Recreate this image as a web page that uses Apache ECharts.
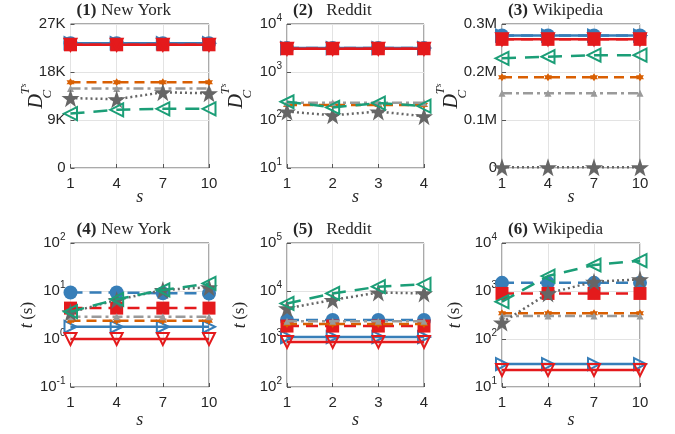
<!DOCTYPE html>
<html><head><meta charset="utf-8">
<script src="https://cdn.jsdelivr.net/npm/echarts@6/dist/echarts.min.js"></script>
<style>html,body{margin:0;padding:0;background:#fff}#c{width:675px;height:434px}</style>
</head><body><div id="c"></div>
<script>
// ---- data ----
const sNY = ['1','4','7','10'];
const sRD = ['1','2','3','4'];
const sWK = ['1','4','7','10'];
const titles = ['(1)|New York','(2)|  Reddit','(3)|Wikipedia','(4)|New York','(5)|  Reddit','(6)|Wikipedia'];
// series order: A blue solid ▷, B red solid ▽, C blue dashed ●, D red dashed ■,
// E orange dashed hexagram, F gray dash-dot ▲, G green dashed ◁, H dark gray dotted ★
const dcNY = {
  A:[23400,23400,23400,23400], B:[23100,23100,23100,23100],
  C:[23400,23400,23400,23400], D:[23100,23100,23100,23100],
  E:[16100,16100,16100,16100], F:[14900,14900,14900,14900],
  G:[10200,10900,11100,11100], H:[13100,12900,14200,14000]
};
const dcRD = {
  A:[3150,3150,3150,3150], B:[3050,3050,3050,3050],
  C:[3150,3150,3150,3150], D:[3050,3050,3050,3050],
  E:[206,206,206,206], F:[230,230,230,230],
  G:[240,183,225,195], H:[150,125,150,120]
};
const dcWK = {
  A:[276000,276000,276000,276000], B:[268000,268000,268000,268000],
  C:[276000,276000,276000,276000], D:[268000,268000,268000,268000],
  E:[189000,189000,189000,189000], F:[155500,155500,155500,155500],
  G:[228500,232000,235000,235000], H:[1500,1500,1500,1500]
};
const tNY = {
  A:[1.8,1.8,1.8,1.8], B:[1.0,1.0,1.0,1.0],
  C:[9.3,9.3,9.0,8.9], D:[4.4,4.4,4.4,4.4],
  E:[2.4,2.4,2.4,2.4], F:[2.9,2.9,2.9,2.9],
  G:[3.7,6.7,10.5,14.4], H:[3.6,6.5,10.5,12]
};
const tRD = {
  A:[1100,1100,1100,1100], B:[870,870,870,870],
  C:[2500,2500,2500,2500], D:[1860,1860,1860,1860],
  E:[2050,2050,2050,2050], F:[2350,2350,2350,2350],
  G:[5500,8900,12300,13800], H:[4350,6500,9300,8900]
};
const tWK = {
  A:[30,30,30,30], B:[22.6,22.6,22.6,22.6],
  C:[1480,1480,1480,1480], D:[890,890,890,890],
  E:[343,343,343,343], F:[302,302,302,302],
  G:[600,2050,3480,4290], H:[220,890,1560,1750]
};
const panelData = [dcNY, dcRD, dcWK, tNY, tRD, tWK];
const panelX = [sNY, sRD, sWK, sNY, sRD, sWK];

// ---- styles ----
const STAR = 'path://M50,0 L61.8,35.1 L98.1,35.1 L68.8,56.8 L79.4,91 L50,70 L20.6,91 L31.2,56.8 L1.9,35.1 L38.2,35.1 Z';
const HEX = 'path://M50,0 L64.4,25 L93.3,25 L78.9,50 L93.3,75 L64.4,75 L50,100 L35.6,75 L6.7,75 L21.1,50 L6.7,25 L35.6,25 Z';
const BLUE='#377eb8', RED='#e41a1c', ORANGE='#d95f02', GREEN='#1b9e77', LGRAY='#9a9a9a', DGRAY='#666666';
const styles = {
  C:{c:BLUE, dash:[12,7], sym:'circle', size:14, rot:0, open:false, w:2.5},
  A:{c:BLUE, dash:'solid', sym:'triangle', size:12, rot:-90, open:true, w:2.5},
  D:{c:RED, dash:[12,7], sym:'rect', size:13, rot:0, open:false, w:2.5},
  B:{c:RED, dash:'solid', sym:'triangle', size:12, rot:180, open:true, w:2.5},
  E:{c:ORANGE, dash:[10,6], sym:HEX, size:8, rot:0, open:false, w:2.5},
  F:{c:LGRAY, dash:[10,4,3,4], sym:'triangle', size:7, rot:0, open:false, w:2.5},
  H:{c:DGRAY, dash:[2,3], sym:STAR, size:18, rot:0, open:false, w:2.5},
  G:{c:GREEN, dash:[14,9], sym:'triangle', size:13, rot:90, open:true, w:2.5}
};
const order = ['C','A','D','B','E','F','H','G'];

const lefts=[70.5,287,502], widths=[138.5,137,138], tops=[24,243], H=144;
const yNameGaps=[16,33,33,34,38,38];
const TXT='#262626';
const grids=[], xAxes=[], yAxes=[], series=[], titleArr=[];
const logFmt = v => '10{sup|' + Math.round(Math.log10(v)) + '}';
const yCfg = [
  {type:'value', min:0, max:27000, interval:9000, fmt: v => v===0?'0':(v/1000)+'K'},
  {type:'log', min:10, max:10000, fmt: logFmt},
  {type:'value', min:0, max:300000, interval:100000, fmt: v => v===0?'0':(v/1e6).toFixed(1)+'M'},
  {type:'log', min:0.1, max:100, fmt: logFmt},
  {type:'log', min:100, max:100000, fmt: logFmt},
  {type:'log', min:10, max:10000, fmt: logFmt}
];
const dName = '{d|D}{sub|C}{sup|T}{ss|s}';
const tName = '{it|t} {n|(s)}';
const SERIF='Liberation Serif';
const nameRich = {
  d:{fontFamily:SERIF, fontStyle:'italic', fontSize:20, color:TXT, lineHeight:30, verticalAlign:'middle'},
  sub:{fontFamily:SERIF, fontStyle:'italic', fontSize:13, color:TXT, verticalAlign:'bottom', lineHeight:27, width:0},
  sup:{fontFamily:SERIF, fontStyle:'italic', fontSize:13, color:TXT, verticalAlign:'top', lineHeight:27},
  ss:{fontFamily:SERIF, fontStyle:'italic', fontSize:9, color:TXT, verticalAlign:'top', lineHeight:35},
  it:{fontFamily:SERIF, fontStyle:'italic', fontSize:18, color:TXT},
  n:{fontFamily:SERIF, fontSize:17, color:TXT}
};
for (let i=0;i<6;i++){
  const r=Math.floor(i/3), c=i%3;
  grids.push({left:lefts[c], top:tops[r], width:widths[c], height:H, show:true, borderColor:'#555', borderWidth:1, backgroundColor:'#fff'});
  xAxes.push({type:'category', gridIndex:i, data:panelX[i], boundaryGap:false,
    axisLine:{show:false}, axisTick:{show:true, inside:true, length:4, lineStyle:{color:'#555'}},
    axisLabel:{color:TXT, fontFamily:'Liberation Sans', fontSize:15, margin:8},
    splitLine:{show:true, lineStyle:{color:'#e3e3e3', width:1}},
    name:'s', nameLocation:'middle', nameGap: r===0?20:24, nameMoveOverlap:false,
    nameTextStyle:{fontFamily:SERIF, fontStyle:'italic', fontSize:18, color:TXT}});
  const yc=yCfg[i];
  const ya={type:yc.type, gridIndex:i, min:yc.min, max:yc.max,
    axisLine:{show:false}, axisTick:{show:true, inside:true, length:4, lineStyle:{color:'#555'}},
    axisLabel:{color:TXT, fontFamily:'Liberation Sans', fontSize:15, margin:5, formatter:yc.fmt,
      rich:{sup:{fontFamily:'Liberation Sans', fontSize:10, color:TXT, verticalAlign:'top', lineHeight:22}}},
    splitLine:{show:true, lineStyle:{color:'#e3e3e3', width:1}},
    minorTick:{show:false},
    name: r===0?dName:tName, nameLocation:'middle', nameRotate:90, nameGap: yNameGaps[i], nameMoveOverlap:false,
    nameTextStyle:{rich:nameRich}};
  if (yc.interval) ya.interval=yc.interval;
  if (yc.type==='log') ya.logBase=10;
  yAxes.push(ya);
  const tt=titles[i].split('|');
  titleArr.push({text:'{b|'+tt[0]+'} {n|'+tt[1]+'}', left:lefts[c]+1, top:tops[r]-27,
    textStyle:{fontWeight:'normal', rich:{b:{fontFamily:SERIF, fontWeight:'bold', fontSize:17, color:TXT},
                     n:{fontFamily:SERIF, fontWeight:'normal', fontSize:17, color:TXT}}}});
  const pd=panelData[i];
  order.forEach(k=>{
    const st=styles[k];
    series.push({type:'line', xAxisIndex:i, yAxisIndex:i, data:pd[k], name:k,
      symbol:st.sym, symbolSize:st.size, symbolRotate:st.rot, showSymbol:true, showAllSymbol:true,
      lineStyle:{color:st.c, width:st.w, type:st.dash},
      itemStyle:{color: st.open?'rgba(255,255,255,0)':st.c, borderColor:st.c, borderWidth: st.open?2:0},
      emphasis:{disabled:true}, silent:true, z: order.indexOf(k)+2});
  });
}
const chart=echarts.init(document.getElementById('c'),null,{renderer:'canvas'});
chart.setOption({animation:false, backgroundColor:'#fff', title:titleArr, grid:grids, xAxis:xAxes, yAxis:yAxes, series:series});
</script></body></html>
